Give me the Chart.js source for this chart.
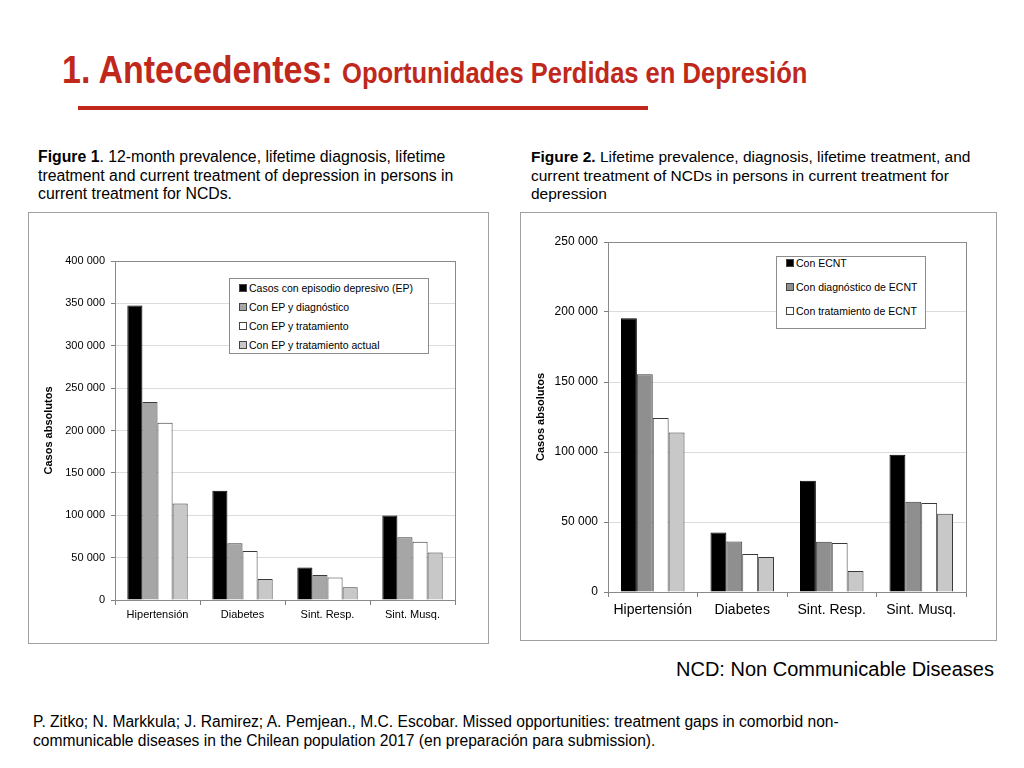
<!DOCTYPE html>
<html>
<head>
<meta charset="utf-8">
<script src="https://cdn.jsdelivr.net/npm/chart.js@4.4.1/dist/chart.umd.min.js"></script>
<style>
  body { margin: 0; width: 1024px; height: 768px; background: #fff; position: relative; overflow: hidden;
         font-family: "Liberation Sans", Arial, sans-serif; color: #000; }
  .abs { position: absolute; }
  .title { left: 62px; top: 47px; color: #c0281c; font-weight: bold; white-space: nowrap;
           transform-origin: left top; transform: scaleX(0.86); }
  .title .big { font-size: 39.5px; }
  .title .small { font-size: 29.7px; }
  .rule { left: 78px; top: 106px; width: 570px; height: 4px; background: #c0281c; }
  .caption { font-size: 15.5px; line-height: 18.5px; white-space: nowrap; }
  .frame { border: 1px solid #a0a0a0; box-sizing: border-box; }
  .chartbox { position: absolute; }
  .legend { position: absolute; border: 1px solid #8c8c8c; background: #fff; box-sizing: border-box;
            font-size: 10.5px; padding-left: 9px; }
  .legend .item { position: absolute; white-space: nowrap; }
  .legend .sw { display: inline-block; width: 6px; height: 6px; margin-right: 2px; border: 0.5px solid #444; vertical-align: 0px; }
</style>
</head>
<body>

<div class="abs title"><span class="big">1. Antecedentes: </span><span class="small">Oportunidades Perdidas en Depresión</span></div>
<div class="abs rule"></div>

<div class="abs caption" style="left:38px; top:148px; font-size:15.8px;"><b>Figure 1</b>. 12-month prevalence, lifetime diagnosis, lifetime<br>treatment and current treatment of depression in persons in<br>current treatment for NCDs.</div>
<div class="abs caption" style="left:531px; top:148px;"><b>Figure 2.</b> Lifetime prevalence, diagnosis, lifetime treatment, and<br>current treatment of NCDs in persons in current treatment for<br>depression</div>

<div class="chartbox" id="box1" style="left:28px; top:212px; width:460px; height:431px;">
  <canvas id="chart1"></canvas>
</div>
<div class="abs frame" style="left:28px; top:212px; width:461px; height:432px; pointer-events:none;"></div>
<div class="legend" id="legend1" style="left:229px; top:278px; width:200px; height:76px;"></div>

<div class="chartbox" id="box2" style="left:520px; top:212px; width:476px; height:428px;">
  <canvas id="chart2"></canvas>
</div>
<div class="abs frame" style="left:520px; top:212px; width:477px; height:429px; pointer-events:none;"></div>
<div class="legend" id="legend2" style="left:776px; top:256px; width:150px; height:73px;"></div>

<div class="abs" style="left:676px; top:658px; font-size:20px; white-space:nowrap;">NCD: Non Communicable Diseases</div>

<div class="abs" style="left:33px; top:712px; font-size:15.6px; line-height:19px; white-space:nowrap;">P. Zitko; N. Markkula; J. Ramirez; A. Pemjean., M.C. Escobar. Missed opportunities: treatment gaps in comorbid non-<br>communicable diseases in the Chilean population 2017 (en preparación para submission).</div>

<script>
// categories shared by both figures
const categories = ['Hipertensión', 'Diabetes', 'Sint. Resp.', 'Sint. Musq.'];

// Figure 1 - depression in persons treated for NCDs
const fig1Labels = ['Casos con episodio depresivo (EP)', 'Con EP y diagnóstico', 'Con EP y tratamiento', 'Con EP y tratamiento actual'];
const fig1EP = [347500, 128800, 38300, 99800];
const fig1Diag = [233700, 67000, 29500, 74100];
const fig1Trat = [209200, 57900, 26500, 68600];
const fig1TratActual = [114000, 24800, 15000, 56000];
const fig1Ticks = [0, 50000, 100000, 150000, 200000, 250000, 300000, 350000, 400000];

// Figure 2 - NCDs in persons treated for depression
const fig2Labels = ['Con ECNT', 'Con diagnóstico de ECNT', 'Con tratamiento de ECNT', 'Con tratamiento actual de ECNT'];
const fig2ECNT = [195500, 42500, 79400, 98000];
const fig2Diag = [155600, 36100, 35900, 64400];
const fig2Trat = [124200, 27100, 35000, 63500];
const fig2TratActual = [113900, 25000, 15000, 55900];
const fig2Ticks = [0, 50000, 100000, 150000, 200000, 250000];

const fmt = v => String(v).replace(/\B(?=(\d{3})+(?!\d))/g, ' ');

// draws the box round the plot area
const plotBorder = {
    id: 'plotBorder',
    afterDraw(chart) {
        const a = chart.chartArea, c = chart.ctx;
        c.save();
        c.strokeStyle = '#8a8a8a';
        c.lineWidth = 1;
        c.strokeRect(Math.round(a.left) + 0.5, Math.round(a.top) + 0.5, Math.round(a.right - a.left), Math.round(a.bottom - a.top));
        c.restore();
    }
};

function makeChart(id, labels, series, colors, opts) {
    const datasets = series.map((data, i) => ({
        label: labels[i],
        data: data,
        backgroundColor: colors[i],
        borderColor: i === 0 ? '#000' : '#3a3a3a',
        borderWidth: 1,
        categoryPercentage: 0.71,
        barPercentage: 1.0
    }));
    return new Chart(document.getElementById(id), {
        type: 'bar',
        data: { labels: categories, datasets: datasets },
        plugins: [plotBorder],
        options: {
            responsive: true,
            maintainAspectRatio: false,
            animation: false,
            layout: { padding: opts.padding },
            plugins: { legend: { display: false }, tooltip: { enabled: false } },
            scales: {
                x: {
                    grid: { display: true, drawOnChartArea: false, offset: true, tickLength: 5, color: '#808080' },
                    border: { color: '#808080' },
                    ticks: { color: '#000', padding: opts.xPad, font: { family: 'Liberation Sans', size: opts.xFont } },
                    afterFit: s => { s.height = opts.xHeight; }
                },
                y: {
                    min: 0,
                    max: opts.ticks[opts.ticks.length - 1],
                    afterBuildTicks: s => { s.ticks = opts.ticks.map(v => ({ value: v })); },
                    grid: { color: '#dcdcdc', tickLength: 4, tickColor: '#808080' },
                    border: { color: '#808080' },
                    ticks: { color: '#000', padding: 6, callback: v => fmt(v), font: { family: 'Liberation Sans', size: opts.yFont } },
                    title: { display: true, text: 'Casos absolutos', color: '#000', font: { family: 'Liberation Sans', size: 11, weight: 'bold' } },
                    afterFit: s => { s.width = opts.yWidth; }
                }
            }
        }
    });
}

function makeLegend(elId, labels, colors, count, top0, step) {
    const el = document.getElementById(elId);
    for (let i = 0; i < count; i++) {
        const d = document.createElement('div');
        d.className = 'item';
        d.style.left = '9px';
        d.style.top = (top0 + i * step) + 'px';
        d.innerHTML = '<span class="sw" style="background:' + colors[i] + '"></span>' + labels[i];
        el.appendChild(d);
    }
}

const colors1 = ['#000000', '#a6a6a6', '#ffffff', '#c8c8c8'];
const colors2 = ['#000000', '#8f8f8f', '#ffffff', '#c8c8c8'];

makeChart('chart1', fig1Labels, [fig1EP, fig1Diag, fig1Trat, fig1TratActual], colors1, {
    padding: { left: 10, top: 49, right: 33, bottom: 0 },
    yWidth: 77, xHeight: 43, xPad: 3, xFont: 11, yFont: 11, ticks: fig1Ticks
});
makeChart('chart2', fig2Labels, [fig2ECNT, fig2Diag, fig2Trat, fig2TratActual], colors2, {
    padding: { left: 10, top: 30, right: 30, bottom: 0 },
    yWidth: 78, xHeight: 48, xPad: 5, xFont: 14, yFont: 12, ticks: fig2Ticks
});

makeLegend('legend1', fig1Labels, colors1, 4, 3, 19);
makeLegend('legend2', fig2Labels, colors2, 3, 0, 24);
</script>
</body>
</html>
